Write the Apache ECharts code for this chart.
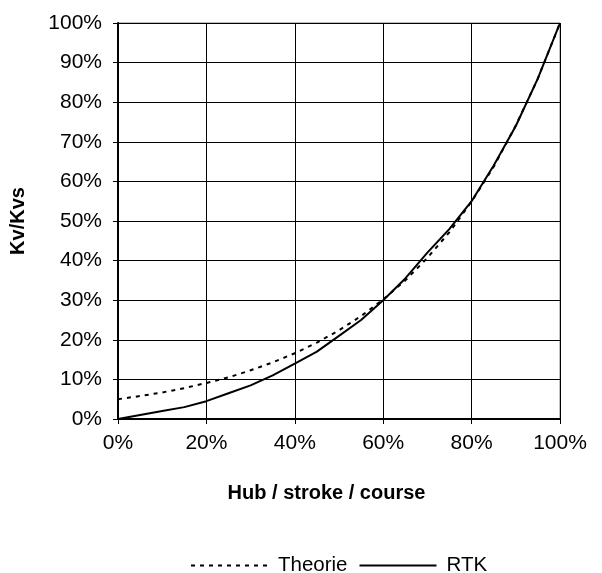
<!DOCTYPE html>
<html>
<head>
<meta charset="utf-8">
<script src="https://cdn.jsdelivr.net/npm/echarts@6/dist/echarts.min.js"></script>
<style>html,body{margin:0;padding:0;background:#fff}#c{width:602px;height:573px}</style>
</head>
<body>
<div id="c"></div>
<script>
const stroke = [0, 5, 10, 15, 20, 25, 30, 35, 40, 45, 50, 55, 60, 65, 70, 75, 80, 85, 90, 95, 100];
const theorie = [5.0, 5.8, 6.7, 7.8, 9.1, 10.5, 12.3, 14.3, 16.6, 19.3, 22.4, 26.0, 30.2, 35.0, 40.7, 47.2, 54.9, 63.7, 74.1, 86.0, 100];
const rtk = [0, 1.0, 2.0, 3.0, 4.5, 6.5, 8.5, 11.0, 14.0, 17.0, 21.0, 25.0, 30.0, 35.5, 42.0, 48.0, 55.0, 64.0, 74.0, 86.0, 100];
const seriesNames = ['Theorie', 'RTK'];
const xTitle = 'Hub / stroke / course';
const yTitle = 'Kv/Kvs';

const font = 'Arial, "Liberation Sans", sans-serif';
const chart = echarts.init(document.getElementById('c'), null, {renderer: 'canvas'});
chart.setOption({
  animation: false,
  backgroundColor: '#fff',
  grid: {left: 117, right: 42, top: 23, bottom: 154, show: true, borderColor: '#808080', borderWidth: 1},
  legend: {
    left: 185, top: 550,
    itemWidth: 77, itemHeight: 14, itemGap: 11,
    itemStyle: {opacity: 0},
    textStyle: {fontFamily: font, fontSize: 20.5, color: '#000', padding: [0, 0, 0, 5]},
    data: seriesNames
  },
  xAxis: {
    type: 'value', min: 0, max: 100, interval: 20,
    name: xTitle, nameLocation: 'middle', nameGap: 64,
    nameTextStyle: {fontFamily: font, fontSize: 20, fontWeight: 'bold', color: '#000', padding: [0, 25, 0, 0]},
    axisLine: {show: true, lineStyle: {color: '#000', width: 2}},
    axisTick: {show: true, length: 5, inside: false, lineStyle: {color: '#000'}},
    axisLabel: {fontFamily: font, fontSize: 21, color: '#000', margin: 14, formatter: v => v + '%'},
    splitLine: {show: true, lineStyle: {color: '#000', width: 1}}
  },
  yAxis: {
    type: 'value', min: 0, max: 100, interval: 10,
    name: yTitle, nameLocation: 'middle', nameGap: 90, nameRotate: 90,
    nameTextStyle: {fontFamily: font, fontSize: 20, fontWeight: 'bold', color: '#000'},
    axisLine: {show: true, lineStyle: {color: '#000', width: 2}},
    axisTick: {show: true, length: 5, lineStyle: {color: '#000'}},
    axisLabel: {fontFamily: font, fontSize: 21, color: '#000', margin: 16, formatter: v => v + '%'},
    splitLine: {show: true, lineStyle: {color: '#000', width: 1}}
  },
  series: [
    {
      name: seriesNames[0], type: 'line', symbol: 'none',
      data: stroke.map((x, i) => [x, theorie[i]]),
      lineStyle: {color: '#000', width: 2, type: [4, 5]},
      itemStyle: {color: '#000'}, z: 3
    },
    {
      name: seriesNames[1], type: 'line', symbol: 'none',
      data: stroke.map((x, i) => [x, rtk[i]]),
      lineStyle: {color: '#000', width: 2, type: 'solid'},
      itemStyle: {color: '#000'}, z: 4
    }
  ]
});
</script>
</body>
</html>
